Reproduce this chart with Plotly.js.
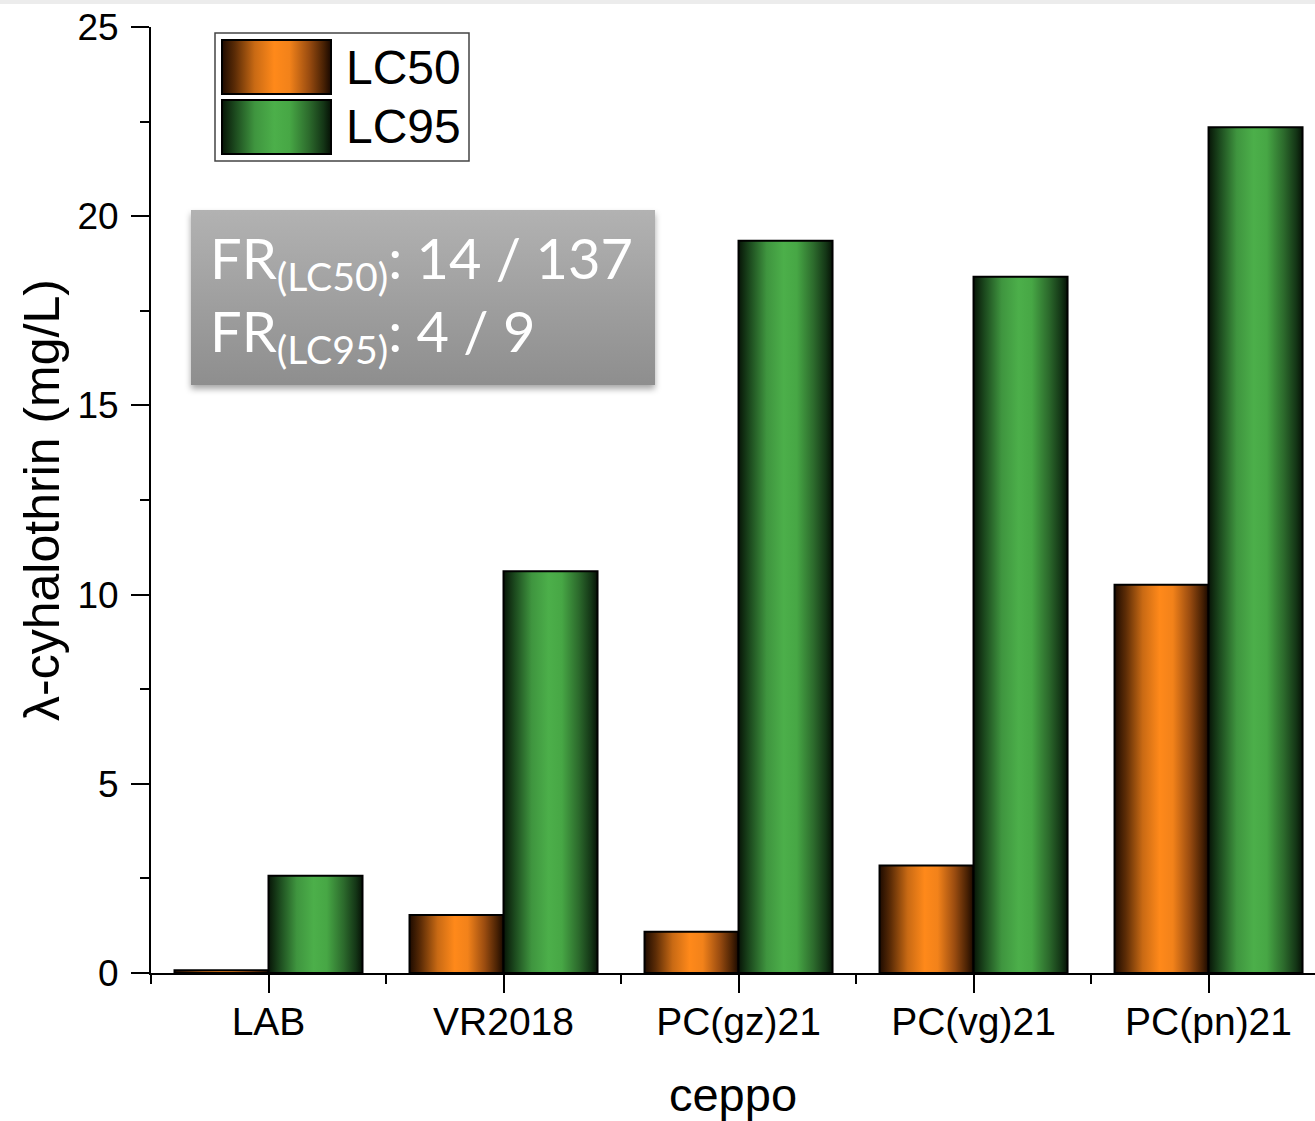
<!DOCTYPE html>
<html>
<head>
<meta charset="utf-8">
<script src="https://cdn.plot.ly/plotly-3.0.1.min.js"></script>
<style>
  html, body { margin: 0; padding: 0; background: #ffffff; }
  #topband { position: absolute; left: 0; top: 0; width: 1315px; height: 4px; background: #ececec; z-index: 5; }
  #chart { width: 1315px; height: 1121px; }
</style>
</head>
<body>
<div id="topband"></div>
<div id="chart"></div>
<script>
// ---- data ----
const categories = ["LAB", "VR2018", "PC(gz)21", "PC(vg)21", "PC(pn)21"];
const lc50 = [0.07, 1.53, 1.09, 2.84, 10.26];
const lc95 = [2.57, 10.62, 19.35, 18.40, 22.35];
const seriesNames = ["LC50", "LC95"];
const yTicks = [0, 5, 10, 15, 20, 25];
const xTitle = "ceppo";
const yTitle = "λ-cyhalothrin (mg/L)";
const frLines = ["FR<sub>(LC50)</sub>: 14 / 137", "FR<sub>(LC95)</sub>: 4 / 9"];

const xIdx = categories.map((c, i) => i);
const FONT = "Liberation Sans, Arial, sans-serif";

const traces = [
  { type: "bar", name: seriesNames[0], x: xIdx, y: lc50,
    marker: { color: "#ff8a1a", line: { color: "#000000", width: 2 } }, showlegend: false },
  { type: "bar", name: seriesNames[1], x: xIdx, y: lc95,
    marker: { color: "#4caf4a", line: { color: "#000000", width: 2 } }, showlegend: false }
];

// pixel -> paper helpers (plot area: x 151..1315, y 27..973)
const PL = 151, PR = 1315, PT = 27, PB = 973;
const px = v => (v - PL) / (PR - PL);
const py = v => (PB - v) / (PB - PT);

const layout = {
  width: 1315, height: 1121,
  margin: { l: PL, r: 1315 - PR, t: PT, b: 1121 - PB, pad: 0 },
  paper_bgcolor: "#ffffff", plot_bgcolor: "#ffffff",
  barmode: "group", bargap: 0.2, bargroupgap: 0,
  showlegend: false,
  font: { family: FONT, color: "#000000" },
  xaxis: {
    type: "linear", range: [-0.5, 4.453],
    tickmode: "array", tickvals: xIdx, ticktext: categories,
    ticks: "outside", ticklen: 18, tickwidth: 2, tickcolor: "#000",
    minor: { tickmode: "linear", tick0: 0.5, dtick: 1, ticks: "outside", ticklen: 9, tickwidth: 2, tickcolor: "#000", showgrid: false },
    showline: true, linecolor: "#000", linewidth: 2,
    showgrid: false, zeroline: false,
    tickfont: { family: FONT, size: 39, color: "#000" },
    ticklabelstandoff: -5,
    title: { text: xTitle, font: { family: FONT, size: 47, color: "#000" }, standoff: 37 }
  },
  yaxis: {
    range: [0, 25], tickmode: "array", tickvals: yTicks,
    ticks: "outside", ticklen: 18, tickwidth: 2, tickcolor: "#000",
    minor: { tickmode: "linear", tick0: 2.5, dtick: 5, ticks: "outside", ticklen: 9, tickwidth: 2, tickcolor: "#000", showgrid: false },
    showline: true, linecolor: "#000", linewidth: 2,
    showgrid: false, zeroline: false,
    tickfont: { family: FONT, size: 37, color: "#000" },
    ticklabelstandoff: 5,
    title: { text: yTitle, font: { family: FONT, size: 50, color: "#000" }, standoff: 2 }
  },
  shapes: [
    // legend frame
    { type: "rect", xref: "paper", yref: "paper", x0: px(215), x1: px(469), y0: py(161), y1: py(33),
      line: { color: "#444", width: 1.5 }, fillcolor: "#ffffff", layer: "above" },
    // legend swatches
    { type: "rect", xref: "paper", yref: "paper", x0: px(222), x1: px(331), y0: py(94), y1: py(40),
      line: { color: "#000", width: 2 }, fillcolor: "#ff8a1a", layer: "above" },
    { type: "rect", xref: "paper", yref: "paper", x0: px(222), x1: px(331), y0: py(154), y1: py(100),
      line: { color: "#000", width: 2 }, fillcolor: "#4caf4a", layer: "above" },
    // FR box
    { type: "rect", xref: "paper", yref: "paper", x0: px(191), x1: px(655), y0: py(385), y1: py(210),
      line: { width: 0 }, fillcolor: "#a0a0a0", layer: "above" }
  ],
  annotations: [
    { xref: "paper", yref: "paper", x: px(344), y: py(67), xanchor: "left", yanchor: "middle",
      text: seriesNames[0], showarrow: false, font: { family: FONT, size: 48, color: "#000" } },
    { xref: "paper", yref: "paper", x: px(344), y: py(127), xanchor: "left", yanchor: "middle",
      text: seriesNames[1], showarrow: false, font: { family: FONT, size: 48, color: "#000" } },
    { xref: "paper", yref: "paper", x: px(208), y: py(298), xanchor: "left", yanchor: "middle",
      text: frLines.join("<br>"), align: "left", showarrow: false,
      font: { family: "Lato, Open Sans, sans-serif", size: 56, color: "#ffffff" } }
  ]
};

Plotly.newPlot("chart", traces, layout, { staticPlot: true }).then(function (gd) {
  const svg = gd.querySelector("svg.main-svg");
  const NS = "http://www.w3.org/2000/svg";
  let defs = svg.querySelector("defs");
  if (!defs) { defs = document.createElementNS(NS, "defs"); svg.insertBefore(defs, svg.firstChild); }
  function grad(id, stops, vertical) {
    const g = document.createElementNS(NS, "linearGradient");
    g.setAttribute("id", id);
    g.setAttribute("x1", "0"); g.setAttribute("y1", "0");
    g.setAttribute("x2", vertical ? "0" : "1"); g.setAttribute("y2", vertical ? "1" : "0");
    stops.forEach(s => {
      const st = document.createElementNS(NS, "stop");
      st.setAttribute("offset", s[0]); st.setAttribute("stop-color", s[1]);
      g.appendChild(st);
    });
    defs.appendChild(g);
  }
  grad("gOrange", [["0", "#1e0b00"], ["0.12", "#5c2c06"], ["0.3", "#c96a14"], ["0.48", "#ff891a"], ["0.62", "#f2821a"], ["0.8", "#9a4c10"], ["0.93", "#4a2204"], ["1", "#1a0900"]]);
  grad("gGreen", [["0", "#071507"], ["0.12", "#1c4a1e"], ["0.3", "#3f953f"], ["0.48", "#4caf4a"], ["0.62", "#47a745"], ["0.8", "#2c6a2c"], ["0.93", "#143616"], ["1", "#061206"]]);
  grad("gGray", [["0", "#b2b2b2"], ["1", "#8e8e8e"]], true);
  const f = document.createElementNS(NS, "filter");
  f.setAttribute("id", "fShadow"); f.setAttribute("x", "-10%"); f.setAttribute("y", "-10%");
  f.setAttribute("width", "120%"); f.setAttribute("height", "130%");
  f.innerHTML = '<feDropShadow dx="0" dy="4" stdDeviation="3" flood-color="#000" flood-opacity="0.35"/>';
  defs.appendChild(f);

  const bars = gd.querySelectorAll("g.trace.bars");
  const ids = ["gOrange", "gGreen"];
  bars.forEach((t, i) => {
    t.querySelectorAll("g.point path").forEach(p => { p.style.fill = "url(#" + ids[i] + ")"; });
  });
  const shapePaths = gd.querySelectorAll(".shapelayer path");
  shapePaths.forEach(p => {
    const idx = p.getAttribute("data-index");
    if (idx === "1") p.style.fill = "url(#gOrange)";
    if (idx === "2") p.style.fill = "url(#gGreen)";
    if (idx === "3") { p.style.fill = "url(#gGray)"; p.setAttribute("filter", "url(#fShadow)"); }
  });
});
</script>
</body>
</html>
